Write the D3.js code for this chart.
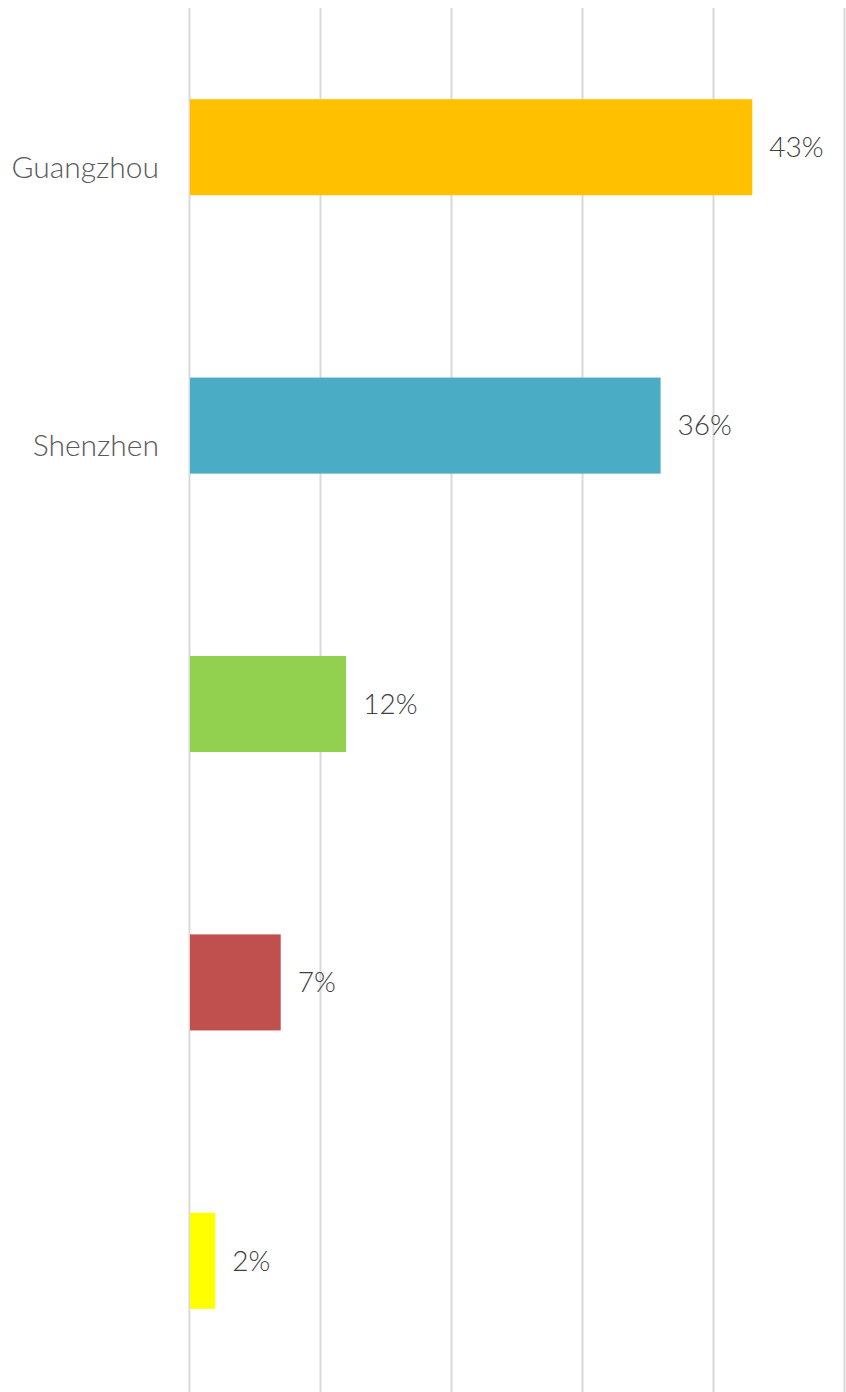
<!DOCTYPE html>
<html>
<head>
<meta charset="utf-8">
<script src="https://cdn.jsdelivr.net/npm/d3@7"></script>
<style>
  body { margin: 0; background: #fff; }
  text { font-family: Lato, "Open Sans", sans-serif; font-weight: 300; }
</style>
</head>
<body>
<script>
// chart data
var categories = ["Guangzhou", "Shenzhen", "", "", ""];
var values = [0.43, 0.36, 0.12, 0.07, 0.02];
var labels = ["43%", "36%", "12%", "7%", "2%"];
var colors = ["#FFC000", "#4BACC6", "#92D050", "#C0504D", "#FFFF00"];
var ticks = [0, 0.1, 0.2, 0.3, 0.4, 0.5];

var width = 846, height = 1392;
var plotLeft = 189, plotRight = 844, plotTop = 8, plotBottom = 1400;

var svg = d3.select("body").append("svg")
    .attr("width", width)
    .attr("height", height);

var x = d3.scaleLinear()
    .domain([0, 0.5])
    .range([plotLeft, plotRight]);

var y = d3.scaleBand()
    .domain(d3.range(categories.length))
    .range([plotTop, plotBottom])
    .paddingInner(0.655)
    .paddingOuter(0.3275);

// gridlines
svg.append("g")
  .selectAll("line")
  .data(ticks)
  .enter().append("line")
    .attr("x1", function(d) { return Math.round(x(d)) + 0.5; })
    .attr("x2", function(d) { return Math.round(x(d)) + 0.5; })
    .attr("y1", plotTop)
    .attr("y2", height)
    .attr("stroke", "#d9d9d9")
    .attr("stroke-width", 2);

// bars
svg.append("g")
  .selectAll("rect")
  .data(values)
  .enter().append("rect")
    .attr("x", x(0) + 1)
    .attr("y", function(d, i) { return y(i); })
    .attr("width", function(d) { return x(d) - x(0) - 1; })
    .attr("height", y.bandwidth())
    .attr("fill", function(d, i) { return colors[i]; });

// value labels
svg.append("g")
  .selectAll("text")
  .data(values)
  .enter().append("text")
    .attr("x", function(d) { return x(d) + 17; })
    .attr("y", function(d, i) { return y(i) + y.bandwidth() / 2; })
    .attr("dy", "0.35em")
    .attr("font-size", 28)
    .attr("fill", "#404040")
    .text(function(d, i) { return labels[i]; });

// category labels
svg.append("g")
  .selectAll("text")
  .data(categories)
  .enter().append("text")
    .attr("x", plotLeft - 30)
    .attr("y", function(d, i) { return y(i) + y.bandwidth() / 2 + 20; })
    .attr("dy", "0.35em")
    .attr("text-anchor", "end")
    .attr("font-size", 30)
    .attr("fill", "#595959")
    .text(function(d) { return d; });
</script>
</body>
</html>
